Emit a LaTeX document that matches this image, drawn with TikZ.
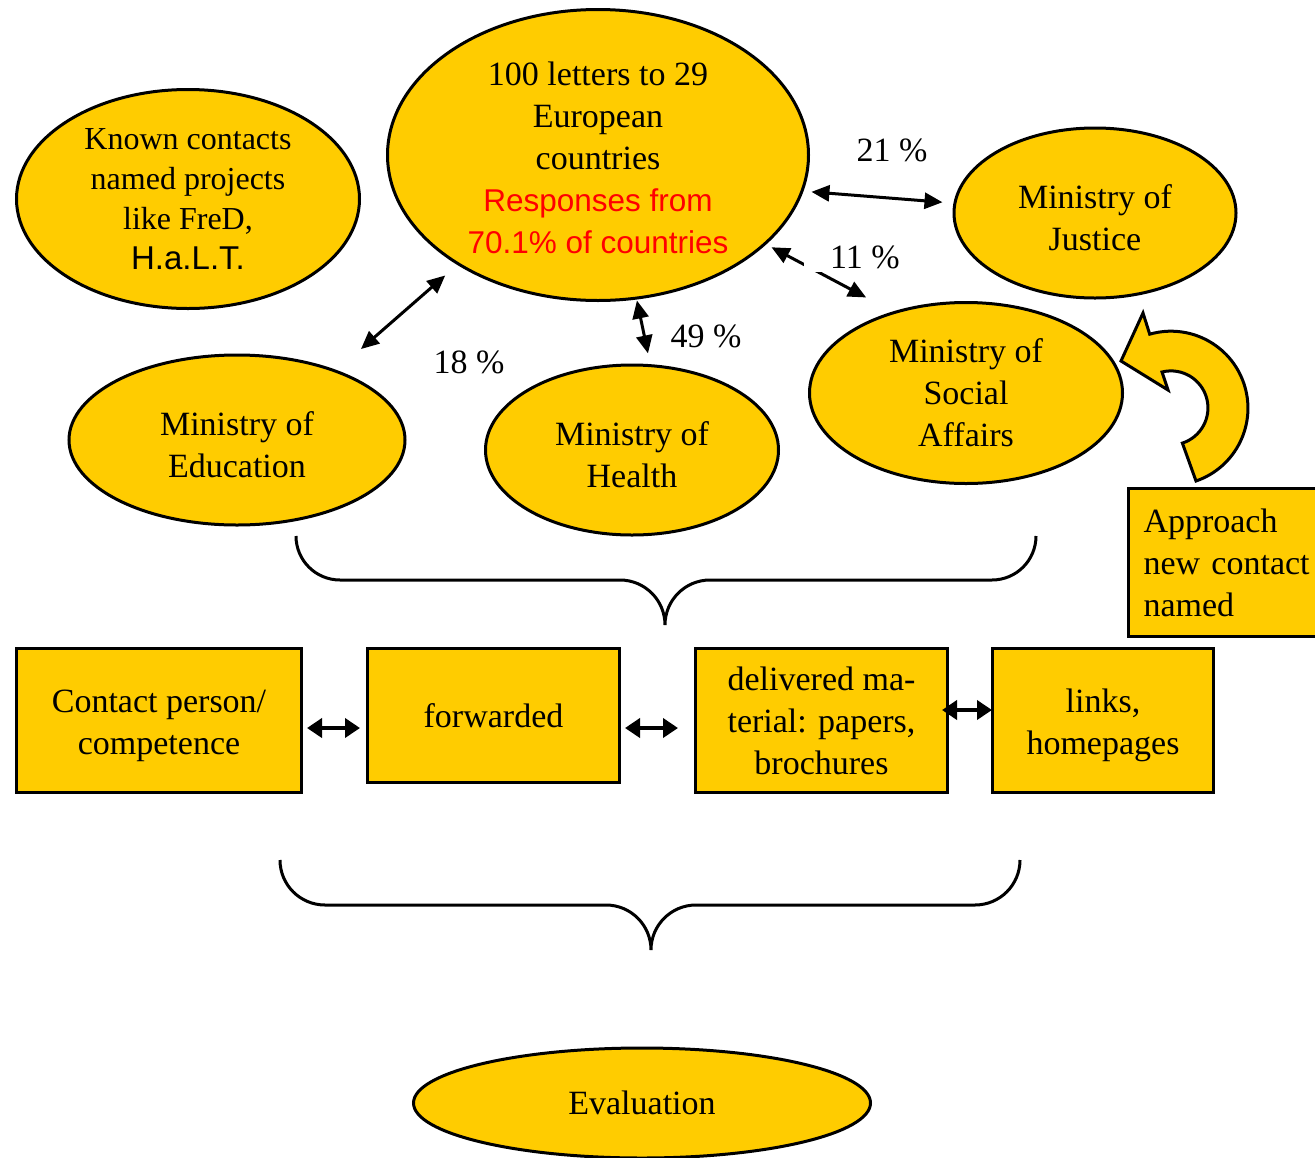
\documentclass[tikz,border=0pt]{standalone}
\usepackage{fontspec}
\setmainfont{Liberation Serif}
\newfontfamily\arialfont{Liberation Sans}
\usetikzlibrary{shapes.geometric,arrows.meta}
\definecolor{gold}{HTML}{FFCC00}
\definecolor{respred}{HTML}{FF0000}

\begin{document}
\begin{tikzpicture}[x=1pt,y=-1pt,
  oval/.style={ellipse, draw=black, line width=3pt, fill=gold, inner sep=0pt,
    align=center, font=\fontsize{34}{42}\selectfont},
  card/.style={rectangle, draw=black, line width=3pt, fill=gold, inner sep=0pt,
    align=center, font=\fontsize{34}{42}\selectfont},
  link/.style={line width=3pt,
    {Triangle[length=18pt,width=16pt]}-{Triangle[length=18pt,width=16pt]}},
  boxlink/.style={line width=4.5pt,
    {Triangle[length=15pt,width=19pt]}-{Triangle[length=15pt,width=19pt]}},
  pct/.style={font=\fontsize{34}{42}\selectfont, inner sep=0pt, anchor=base},
  brace/.style={line width=3pt},
]
\useasboundingbox (0,0) rectangle (1315,1157);

% ---- ellipses ----
\node[oval, minimum width=343pt, minimum height=219pt, font=\fontsize{32}{40}\selectfont]
  (known) at (188,199) {Known contacts\\named projects\\like FreD,\\{\arialfont\fontsize{33}{40}\selectfont H.a.L.T.}};
\node[oval, minimum width=421pt, minimum height=291pt] (letters) at (598,155)
  {\rule{0pt}{30pt}100 letters to 29\\European\\countries\\
   \textcolor{respred}{\arialfont\fontsize{31.5}{40}\selectfont Responses from}\\
   \textcolor{respred}{\arialfont\fontsize{31.5}{40}\selectfont 70.1\% of countries}};
\node[oval, minimum width=282pt, minimum height=170pt] (justice) at (1095,213) {\rule{0pt}{33pt}Ministry of\\Justice};
\node[oval, minimum width=313pt, minimum height=181pt] (social) at (966,393) {Ministry of\\Social\\Affairs};
\node[oval, minimum width=336pt, minimum height=170pt] (education) at (237,440) {\rule{0pt}{33pt}Ministry of\\Education};
\node[oval, minimum width=293pt, minimum height=170pt] (health) at (632,450) {\rule{0pt}{33pt}Ministry of\\Health};
\node[oval, minimum width=457pt, minimum height=110pt] (evaluation) at (642,1103) {Evaluation};

% ---- boxes ----
\node[card, minimum width=285pt, minimum height=144pt] (contact) at (159,720.5) {\rule{0pt}{33pt}Contact person/\\competence};
\node[card, minimum width=252pt, minimum height=134pt] (forwarded) at (493.5,715.5) {forwarded};
\node[card, minimum width=252pt, minimum height=144pt] (delivered) at (821.5,720.5) {delivered ma-\\terial: papers,\\brochures};
\node[card, minimum width=221pt, minimum height=144pt] (links) at (1103,720.5) {\rule{0pt}{33pt}links,\\homepages};
\node[card, minimum width=200pt, minimum height=148pt, text width=170pt, align=left]
  (approach) at (1228.5,562.5) {Approach\\new contact\\named};

% ---- connectors between ellipses ----
\draw[link, shorten <=8pt, shorten >=11pt] (letters.-10) -- (justice.176);
\draw[link, shorten <=6pt, shorten >=30pt] (letters.-28.4) -- (social.132.2);
\draw[link, shorten <=32pt, shorten >=16pt] (education.35.3) -- (letters.218.8);
\draw[link, shorten <=11pt, shorten >=1pt] (health.78.2) -- (letters.-75.3);

% ---- percentages ----
\node[pct] (p21) at (892,161) {21 \%};
\node[pct, fill=white, text depth=0pt, inner xsep=26pt, inner ysep=4pt] (p11) at (865,268) {11 \%};
\node[pct] (p18) at (469,373) {18 \%};
\node[pct] (p49) at (706,347) {49 \%};

% ---- connectors between boxes ----
\draw[boxlink, shorten <=4pt, shorten >=6pt]
  ([yshift=-7.5pt]contact.east) -- ([yshift=-12.5pt]forwarded.west);
\draw[boxlink, shorten <=4pt, shorten >=16pt]
  ([yshift=-12.5pt]forwarded.east) -- ([yshift=-7.5pt]delivered.west);
\draw[boxlink, shorten <=-7pt, shorten >=-1pt]
  ([yshift=10.5pt]delivered.east) -- ([yshift=10.5pt]links.west);

% ---- braces ----
\draw[brace] (296,536) arc[start angle=180, end angle=90, radius=44]
  -- (620,580) arc[start angle=-90, end angle=0, radius=45]
  arc[start angle=180, end angle=270, radius=45]
  -- (992,580) arc[start angle=90, end angle=0, radius=44];
\draw[brace] (280,860) arc[start angle=180, end angle=90, radius=45]
  -- (606,905) arc[start angle=-90, end angle=0, radius=45]
  arc[start angle=180, end angle=270, radius=45]
  -- (975,905) arc[start angle=90, end angle=0, radius=45];

% ---- curved block arrow towards the social affairs ministry ----
\draw[line width=3pt, fill=gold, line join=miter]
  (1196,481) arc[start angle=71, end angle=-106, radius=77]
  -- (1143,313) -- (1121,361) -- (1168,390) -- (1162,372)
  arc[start angle=-104, end angle=72, radius=37]
  -- cycle;
\end{tikzpicture}
\end{document}
